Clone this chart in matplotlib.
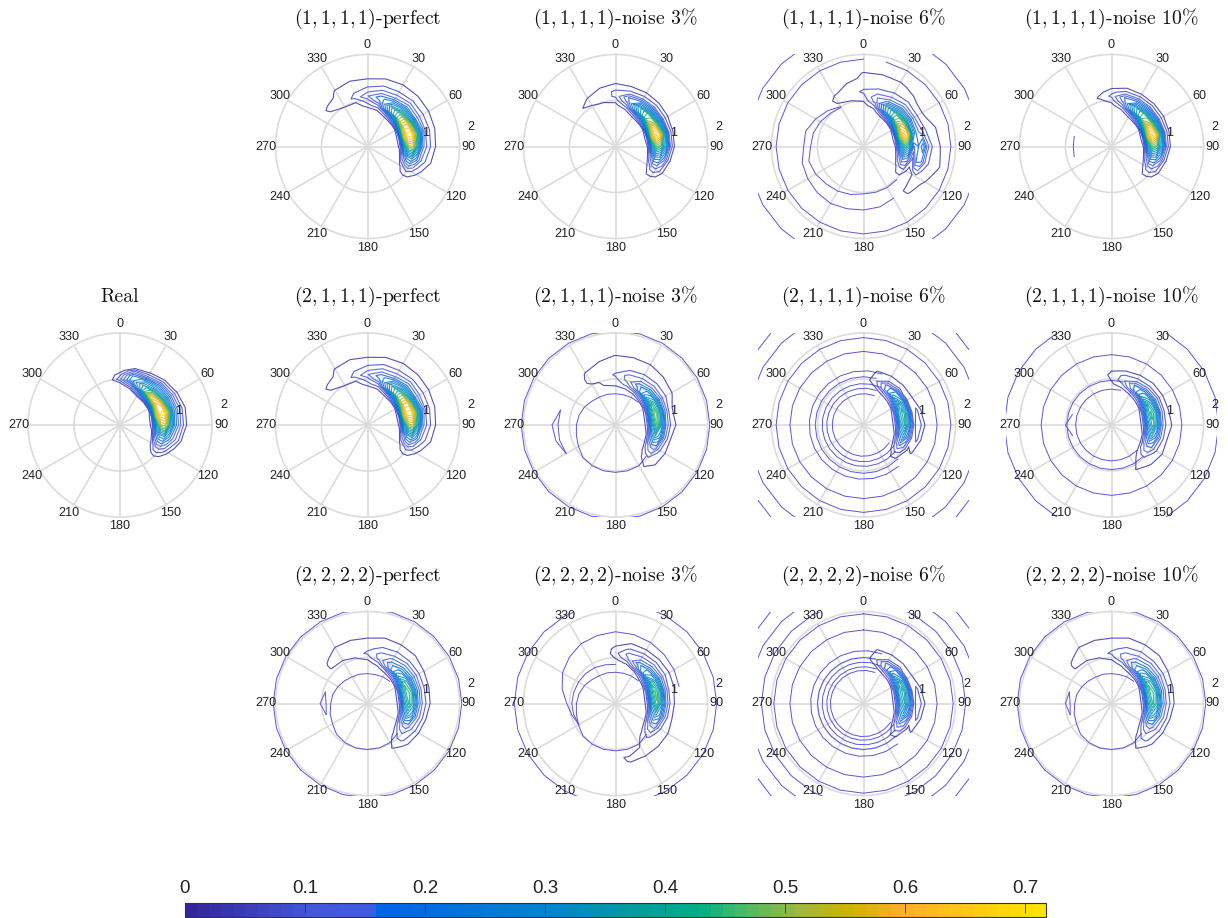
import matplotlib
matplotlib.use("Agg")
import matplotlib.pyplot as plt
from matplotlib.cm import ScalarMappable
from matplotlib.colors import LinearSegmentedColormap, Normalize
import numpy as np

plt.rcParams['font.family'] = ['Liberation Sans', 'DejaVu Sans']
plt.rcParams['mathtext.fontset'] = 'cm'
plt.rcParams['axes.unicode_minus'] = False

# colour scale at the bottom
CBAR_TICKS = [0, 0.1, 0.2, 0.3, 0.4, 0.5, 0.6, 0.7]
CMAX = 0.7176
LEVELS = np.arange(1, 21) * 0.0358
cmap = LinearSegmentedColormap.from_list('bar', [
    (0.0, '#33269a'), (0.14, '#4456dc'), (0.215, '#3d5be0'), (0.22, '#0062e6'),
    (0.42, '#0085cf'), (0.5, '#0095a8'), (0.6, '#00ad84'), (0.64, '#3cba6c'),
    (0.72, '#a4b83c'), (0.77, '#c9b400'), (0.84, '#ffae2a'), (1.0, '#ffe600')], N=72)
norm = Normalize(0, CMAX)

# crescent tables: values x 0.01, rows are angles -45,-30,... clockwise from north,
# columns are radii below; short rows and tables are zero past the end
CRESCENT_R = [0.6, 0.7, 0.8, 0.9, 1.0, 1.1, 1.2, 1.3, 1.4, 1.5, 1.6, 1.7]

real = [
    [],
    [],
    [],
    [0, 0, 0, 2, 10, 6],
    [0, 0, 2, 12, 24, 22, 12],
    [0, 0, 14, 34, 36, 27, 12, 4],
    [0, 1, 28, 58, 46, 30, 20, 9, 2],
    [0, 2, 38, 66, 60, 36, 22, 12, 5],
    [0, 6, 50, 68, 72, 46, 24, 14, 7, 2],
    [0, 6, 36, 54, 56, 34, 20, 12, 6, 1],
    [0, 2, 18, 27, 28, 20, 13, 8, 2],
    [0, 0, 5, 12, 12, 9, 4],
    [0, 0, 0, 1, 2],
]
perfect = [
    [0, 0, 0, 0, 1, 4, 5, 1],
    [0, 0, 0, 0, 4, 5, 5, 5, 4, 1],
    [0, 0, 0, 1, 4, 8, 7, 6, 5, 3],
    [0, 0, 1, 6, 9, 14, 10, 7, 5, 3],
    [0, 0, 3, 9, 17, 20, 14, 9, 6, 4, 2],
    [0, 1, 9, 30, 34, 25, 15, 10, 6, 5, 2],
    [0, 2, 20, 46, 46, 32, 19, 12, 7, 5, 2],
    [0, 4, 38, 62, 60, 36, 18, 11, 7, 5, 1],
    [0, 6, 50, 70, 71, 46, 24, 11, 7, 4, 1],
    [0, 5, 34, 52, 54, 34, 16, 10, 6, 3],
    [0, 1, 14, 24, 26, 19, 11, 7, 4, 2],
    [0, 0, 3, 7, 9, 7, 4, 2],
]
noise3 = [
    [0, 0, 0, 0, 1, 3, 1],
    [0, 0, 0, 0, 3, 5, 4, 1],
    [0, 0, 0, 0, 4, 5, 5, 4, 1],
    [0, 0, 0, 2, 5, 8, 8, 5, 3],
    [0, 0, 2, 8, 15, 18, 9, 5, 2],
    [0, 1, 9, 28, 33, 21, 10, 5, 2],
    [0, 2, 20, 44, 44, 25, 11, 5, 1],
    [0, 4, 38, 60, 50, 28, 10, 4, 1],
    [0, 6, 50, 70, 66, 36, 11, 3],
    [0, 4, 32, 48, 42, 28, 10, 2],
    [0, 1, 13, 25, 23, 15, 5],
    [0, 0, 4, 9, 10, 7, 2],
    [0, 0, 0, 2, 1],
]
noise10 = [
    [],
    [],
    [0, 0, 0, 0, 2, 4, 2],
    [0, 0, 0, 2, 5, 8, 6, 2],
    [0, 0, 2, 8, 15, 18, 9, 4],
    [0, 1, 9, 28, 33, 21, 10, 4],
    [0, 2, 20, 44, 44, 25, 11, 4],
    [0, 4, 38, 60, 50, 28, 10, 4],
    [0, 6, 50, 70, 66, 36, 11, 3],
    [0, 4, 32, 48, 42, 28, 10, 2],
    [0, 1, 13, 25, 23, 15, 5],
    [0, 0, 4, 9, 10, 7, 2],
    [0, 0, 0, 2, 1],
]
six1 = [
    [],
    [0, 0, 0, 0, 1, 4, 5, 3],
    [0, 0, 0, 0, 3, 5, 5, 5, 4, 1],
    [0, 0, 0, 2, 4, 6, 8, 6, 5, 5, 4],
    [0, 0, 1, 6, 12, 14, 10, 7, 5, 5, 4, 1],
    [0, 0, 9, 26, 30, 19, 12, 8, 6, 5, 4, 1],
    [0, 1, 20, 42, 42, 27, 16, 10, 6, 4, 3],
    [0, 4, 34, 58, 52, 30, 17, 9, 5, 3],
    [0, 6, 46, 68, 62, 28, 16, 12, 7, 5, 4, 2],
    [0, 4, 28, 42, 34, 14, 18, 24, 12, 7, 5, 3],
    [0, 1, 11, 21, 17, 6, 20, 18, 9, 6, 5, 4],
    [0, 0, 3, 7, 7, 2, 3, 6, 5, 4, 3, 1],
    [0, 0, 0, 1, 1, 0, 2, 4, 4, 2],
    [0, 0, 0, 0, 0, 0, 0, 2, 1],
]
tail2 = [
    [],
    [0, 0, 0, 0, 3, 5, 5, 4, 1],
    [0, 0, 0, 4, 4, 4, 5, 5, 4, 2],
    [0, 0, 2, 5, 6, 8, 5, 5, 4, 4, 1],
    [0, 0, 3, 8, 12, 12, 8, 5, 4, 4, 1],
    [0, 0, 5, 16, 20, 14, 9, 6, 5, 4, 1],
    [0, 1, 12, 30, 26, 16, 10, 6, 5, 3],
    [0, 4, 24, 44, 34, 18, 9, 6, 4, 1],
    [0, 8, 34, 50, 36, 16, 7, 3, 1],
    [0, 8, 32, 48, 32, 14, 7, 4, 1],
    [0, 4, 22, 32, 26, 12, 5, 1],
    [0, 1, 10, 16, 16, 8, 4, 3],
    [0, 0, 3, 6, 7, 5, 4, 2],
    [0, 0, 0, 0, 1, 3, 1],
]
tail3 = [
    [],
    [],
    [],
    [0, 0, 0, 2, 4, 6, 5, 2],
    [0, 0, 0, 4, 10, 12, 8, 5, 2],
    [0, 0, 3, 14, 20, 14, 9, 5, 2],
    [0, 1, 10, 28, 26, 16, 10, 5, 2],
    [0, 4, 22, 42, 32, 18, 9, 5, 2],
    [0, 8, 34, 48, 36, 16, 7, 4, 2],
    [0, 8, 32, 46, 30, 14, 6, 3, 1],
    [0, 4, 22, 30, 24, 12, 5, 3],
    [0, 1, 10, 16, 16, 8, 5, 4, 1],
    [0, 0, 3, 7, 8, 6, 5, 4, 1],
    [0, 0, 0, 1, 3, 4, 4, 4, 1],
    [0, 0, 0, 0, 0, 1, 4, 4, 1],
    [0, 0, 0, 0, 0, 0, 3, 2],
]
perfect3 = [
    [0, 0, 0, 0, 1, 4, 4, 3],
    [0, 0, 0, 0, 2, 4, 5, 5, 4],
    [0, 0, 0, 1, 3, 5, 5, 4, 4, 2],
    [0, 0, 0, 2, 5, 8, 6, 5, 4, 2],
    [0, 0, 2, 6, 12, 12, 9, 6, 5, 3],
    [0, 0, 6, 18, 20, 15, 10, 7, 5, 3],
    [0, 1, 12, 30, 26, 18, 12, 7, 5, 3],
    [0, 4, 24, 42, 34, 20, 12, 7, 4, 1],
    [0, 8, 34, 46, 38, 20, 11, 6, 3],
    [0, 8, 32, 44, 34, 18, 10, 6, 2],
    [0, 4, 22, 32, 26, 15, 9, 4, 1],
    [0, 1, 10, 16, 16, 11, 7, 3],
    [0, 0, 3, 7, 9, 8, 5, 2],
    [0, 0, 0, 1, 3, 4, 2],
]
ten2 = [
    [],
    [],
    [],
    [0, 0, 1, 3, 4, 5, 3],
    [0, 0, 2, 6, 10, 8, 4, 1],
    [0, 0, 5, 16, 18, 10, 5, 2],
    [0, 1, 10, 28, 24, 13, 6, 3],
    [0, 4, 22, 40, 30, 15, 7, 3],
    [0, 8, 32, 44, 34, 14, 6, 3],
    [0, 8, 30, 42, 28, 12, 6, 4],
    [0, 4, 20, 30, 22, 11, 5, 2],
    [0, 1, 10, 15, 14, 8, 5, 3],
    [0, 0, 4, 7, 7, 5, 4, 1],
    [0, 0, 0, 1, 3, 4, 1],
]
six2 = [
    [],
    [],
    [],
    [0, 0, 0, 0, 1],
    [0, 0, 1, 4, 6, 5, 4],
    [0, 0, 5, 14, 15, 7, 4, 2],
    [0, 1, 10, 26, 22, 8, 4, 2],
    [0, 4, 22, 38, 26, 6, 4, 1],
    [0, 8, 32, 42, 28, 5, 8, 3],
    [0, 8, 30, 40, 24, 6, 10, 5, 1],
    [0, 4, 20, 28, 18, 5, 8, 3],
    [0, 1, 9, 14, 10, 3, 4, 1],
    [0, 0, 2, 5, 4, 1],
]

# contour rings outside the crescents: (from deg, to deg, radius or radii every 15 deg)
FULL = (0, 360)
inner_2 = [0.95, 1.02, 1.03, 1.03, 1.03, 1.02, 1.0, 0.93, 0.88, 0.85, 0.82, 0.78,
           0.73, 0.7, 0.69, 0.68, 0.68, 0.69, 0.7]
inner_3 = [0.92, 0.98, 1.0, 1.0, 1.0, 0.98, 0.95, 0.88, 0.84, 0.8, 0.78, 0.74,
           0.7, 0.67, 0.66, 0.65, 0.65, 0.67, 0.68]
rings_six1 = [(135, 330, [1.02, 1.03, 1.03, 1.03, 1.08, 1.12, 1.15, 1.2, 1.23, 1.15, 1.13, 1.08, 1.02, 0.98]),
              (150, 330, [1.3, 1.36, 1.38, 1.4, 1.43, 1.42, 1.4, 1.38, 1.3, 1.3, 1.2, 1.1, 1.0]),
              (15, 360, 1.9), (*FULL, 2.53)]
rings_ten1 = [(255, 285, [0.84, 0.83, 0.84])]
rings_n3_2 = [(135, 405, inner_2), (*FULL, 2.05),
              (240, 285, [1.24, 1.34, 1.38, 1.24]), (240, 285, [1.24, 1.26, 1.25, 1.24])]
rings_n6_2 = [(125, 385, 0.68), (125, 385, 0.8), (130, 385, 0.9), (135, 385, 1.05),
              (140, 380, 1.18), (*FULL, 1.6), (*FULL, 1.9), (*FULL, 2.52), (*FULL, 2.84)]
rings_n10_2 = [(135, 385, 0.78), (135, 375, 0.97), (*FULL, 1.53), (*FULL, 2.33),
               (255, 285, [0.88, 1.0, 0.88])]
rings_perf3 = [(135, 405, inner_3), (*FULL, 2.05),
               (255, 285, [0.93, 1.03, 0.95]), (255, 285, [0.93, 0.9, 0.95])]
rings_n3_3 = [(135, 405, inner_2),
              (240, 360, [0.92, 0.94, 0.95, 0.94, 0.93, 0.92, 0.9, 0.87, 0.85]),
              (240, 445, [0.92, 0.98, 1.06, 1.2, 1.33, 1.42, 1.5, 1.53, 1.56, 1.55, 1.53, 1.5, 1.47, 1.43]),
              (*FULL, 2.2)]
rings_n6_3 = [(125, 385, 0.72), (125, 385, 0.8), (130, 385, 0.9), (135, 385, 1.0),
              (140, 385, 1.15), (*FULL, 1.6), (*FULL, 1.95), (*FULL, 2.22),
              (*FULL, 2.52), (*FULL, 2.84)]
rings_n10_3 = [(135, 405, inner_3), (*FULL, 2.05),
               (255, 285, [0.93, 1.0, 0.95]), (255, 285, [0.93, 0.9, 0.95])]

# title, centre x, centre y, crescent, rings
X_COLS = [367.5, 615.5, 863.5, 1111.5]
Y_ROWS = [146.5, 425, 703.5]
panels = [
    ('Real', 120, Y_ROWS[1], real, []),
    ('$(1,1,1,1)$-perfect', X_COLS[0], Y_ROWS[0], perfect, []),
    ('$(1,1,1,1)$-noise 3%', X_COLS[1], Y_ROWS[0], noise3, []),
    ('$(1,1,1,1)$-noise 6%', X_COLS[2], Y_ROWS[0], six1, rings_six1),
    ('$(1,1,1,1)$-noise 10%', X_COLS[3], Y_ROWS[0], noise10, rings_ten1),
    ('$(2,1,1,1)$-perfect', X_COLS[0], Y_ROWS[1], perfect, []),
    ('$(2,1,1,1)$-noise 3%', X_COLS[1], Y_ROWS[1], tail2, rings_n3_2),
    ('$(2,1,1,1)$-noise 6%', X_COLS[2], Y_ROWS[1], six2, rings_n6_2),
    ('$(2,1,1,1)$-noise 10%', X_COLS[3], Y_ROWS[1], ten2, rings_n10_2),
    ('$(2,2,2,2)$-perfect', X_COLS[0], Y_ROWS[2], perfect3, rings_perf3),
    ('$(2,2,2,2)$-noise 3%', X_COLS[1], Y_ROWS[2], tail3, rings_n3_3),
    ('$(2,2,2,2)$-noise 6%', X_COLS[2], Y_ROWS[2], six2, rings_n6_3),
    ('$(2,2,2,2)$-noise 10%', X_COLS[3], Y_ROWS[2], perfect3, rings_n10_3),
]

W, H = 1228, 918
UNIT = 46  # pixels per radius unit
GRID = '#dcdcdc'
fig = plt.figure(figsize=(W / 100, H / 100), dpi=100)

radii = np.array([0.5] + CRESCENT_R + [1.85])
angles = np.arange(-60, 301, 15)
A, R = np.meshgrid(np.radians(angles), radii, indexing='ij')
X, Y = R * np.sin(A), R * np.cos(A)


def draw_panel(title, cx, cy, table, rings):
    w, h = 2.3 * UNIT, 2 * UNIT
    ax = fig.add_axes([(cx - w) / W, 1 - (cy + h) / H, 2 * w / W, 2 * h / H])
    ax.set_xlim(-2.3, 2.3)
    ax.set_ylim(-2, 2)
    ax.axis('off')

    t = np.radians(np.arange(0, 361, 3))
    for r in [1, 2]:
        ax.plot(r * np.sin(t), r * np.cos(t), color=GRID, lw=1.2, clip_on=False, zorder=1)
    for a in np.radians(np.arange(0, 180, 30)):
        ax.plot([-2 * np.sin(a), 2 * np.sin(a)], [-2 * np.cos(a), 2 * np.cos(a)],
                color=GRID, lw=1.2, clip_on=False, zorder=1)

    Z = np.zeros(X.shape)
    for i, row in enumerate(table):
        Z[i + 1, 1:len(row) + 1] = np.array(row) * 0.01
    ax.contour(X, Y, Z, levels=LEVELS, cmap=cmap, norm=norm, linewidths=0.8, alpha=0.85, zorder=3)

    for start, end, r in rings:
        th = np.arange(start, end + 1, 15)
        ax.plot(np.array(r) * np.sin(np.radians(th)), np.array(r) * np.cos(np.radians(th)),
                color='#5a55dc', lw=0.7, zorder=2)

    for a in range(0, 360, 30):
        ax.text(2.2 * np.sin(np.radians(a)), 2.2 * np.cos(np.radians(a)), str(a), fontsize=9.1,
                ha='center', va='center', color='#222222', clip_on=False, zorder=4)
    ax.text(1.27, 0.3, '1', fontsize=9.1, ha='center', va='center', color='#222222', zorder=4)
    ax.text(2.25, 0.43, '2', fontsize=9.1, ha='center', va='center', color='#222222', clip_on=False)
    fig.text(cx / W, 1 - (cy - 128) / H, title, family='cmr10', fontsize=14.2,
             ha='center', va='center', color='#111111')


for p in panels:
    draw_panel(*p)

cax = fig.add_axes([185 / W, 1 - 917 / H, 861 / W, 14 / H])
cb = fig.colorbar(ScalarMappable(norm=norm, cmap=cmap), cax=cax, orientation='horizontal',
                  ticks=CBAR_TICKS)
cb.set_ticklabels(['0', '0.1', '0.2', '0.3', '0.4', '0.5', '0.6', '0.7'])
cax.xaxis.set_ticks_position('top')
cax.tick_params(axis='x', direction='in', length=7, width=0.6, color='#333333',
                labelsize=13.5, pad=4, labelcolor='#222222')
cb.outline.set_linewidth(0.8)
cb.outline.set_edgecolor('#333333')

fig.savefig('out.png', dpi=100, facecolor='white')
